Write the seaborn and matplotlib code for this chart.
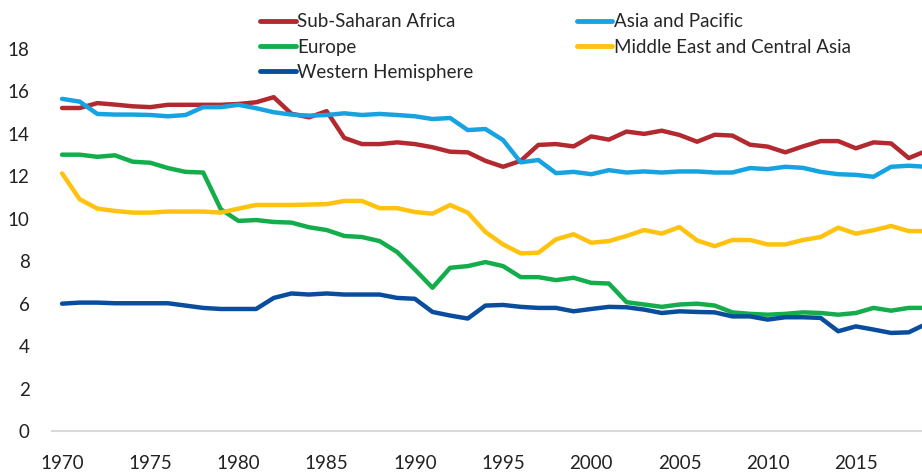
import matplotlib
matplotlib.use("Agg")
import matplotlib.pyplot as plt
import pandas as pd
import seaborn as sns

years = list(range(1970, 2020))

ssa = [15.22, 15.22, 15.45, 15.38, 15.30, 15.26, 15.37, 15.37, 15.37, 15.37,
       15.41, 15.49, 15.73, 14.95, 14.78, 15.07, 13.81, 13.52, 13.52, 13.60,
       13.52, 13.37, 13.16, 13.13, 12.73, 12.45, 12.73, 13.48, 13.52, 13.41,
       13.88, 13.73, 14.11, 14.00, 14.15, 13.95, 13.63, 13.96, 13.92, 13.49,
       13.40, 13.13, 13.41, 13.66, 13.66, 13.32, 13.60, 13.55, 12.86, 13.20]

asia = [15.65, 15.52, 14.94, 14.91, 14.91, 14.89, 14.83, 14.89, 15.26, 15.26,
        15.37, 15.21, 15.02, 14.91, 14.86, 14.89, 14.97, 14.89, 14.94, 14.89,
        14.83, 14.70, 14.75, 14.18, 14.23, 13.71, 12.66, 12.77, 12.15, 12.21,
        12.10, 12.29, 12.18, 12.23, 12.18, 12.23, 12.23, 12.18, 12.18, 12.39,
        12.34, 12.45, 12.40, 12.21, 12.10, 12.07, 11.98, 12.45, 12.50, 12.45]

europe = [13.02, 13.02, 12.92, 12.99, 12.69, 12.64, 12.39, 12.21, 12.18, 10.45,
          9.90, 9.94, 9.85, 9.82, 9.60, 9.47, 9.19, 9.14, 8.95, 8.43,
          7.61, 6.75, 7.69, 7.77, 7.96, 7.77, 7.25, 7.25, 7.11, 7.22,
          6.98, 6.95, 6.07, 5.96, 5.85, 5.96, 6.00, 5.91, 5.59, 5.52,
          5.48, 5.52, 5.59, 5.56, 5.48, 5.56, 5.80, 5.67, 5.80, 5.80]

meca = [12.14, 10.92, 10.48, 10.37, 10.29, 10.29, 10.34, 10.34, 10.34, 10.29,
        10.48, 10.65, 10.65, 10.65, 10.67, 10.69, 10.84, 10.84, 10.50, 10.50,
        10.32, 10.24, 10.65, 10.29, 9.38, 8.79, 8.37, 8.40, 9.03, 9.27,
        8.87, 8.95, 9.19, 9.47, 9.30, 9.61, 8.98, 8.71, 9.00, 9.00,
        8.79, 8.79, 9.00, 9.14, 9.58, 9.30, 9.46, 9.66, 9.42, 9.42]

western = [6.00, 6.05, 6.05, 6.02, 6.02, 6.02, 6.02, 5.91, 5.80, 5.75,
           5.75, 5.75, 6.27, 6.48, 6.43, 6.48, 6.43, 6.43, 6.43, 6.27,
           6.23, 5.61, 5.44, 5.30, 5.91, 5.94, 5.85, 5.80, 5.80, 5.64,
           5.75, 5.85, 5.83, 5.72, 5.56, 5.64, 5.61, 5.59, 5.40, 5.40,
           5.25, 5.36, 5.36, 5.33, 4.70, 4.93, 4.78, 4.62, 4.65, 5.05]

# legend order: column 1 then column 2
regions = ["Sub-Saharan Africa", "Europe", "Western Hemisphere",
           "Asia and Pacific", "Middle East and Central Asia"]
colors = ["#B22A30", "#13AD4B", "#0A4D9E", "#17A3E2", "#FFC20E"]

df = pd.DataFrame({"year": years, "Sub-Saharan Africa": ssa, "Europe": europe,
                   "Western Hemisphere": western, "Asia and Pacific": asia,
                   "Middle East and Central Asia": meca})
long = df.melt(id_vars="year", var_name="region", value_name="value")

sns.set_style("white")
plt.rcParams["font.family"] = ["Lato", "DejaVu Sans"]

fig = plt.figure(figsize=(9.22, 4.73), dpi=100)
ax = fig.add_axes([52 / 922, 42 / 473, 870 / 922, 382 / 473])

sns.lineplot(data=long, x="year", y="value", hue="region", hue_order=regions,
             palette=colors, linewidth=3.2, ax=ax)

ax.set_xlim(1969.43, 2018.75)
ax.set_ylim(0, 18)
ax.set_xticks(range(1970, 2016, 5))
ax.set_yticks(range(0, 19, 2))
ax.set_xlabel("")
ax.set_ylabel("")
ax.tick_params(axis="both", length=0, labelsize=13.5, colors="#222222")
ax.tick_params(axis="y", pad=16)
ax.tick_params(axis="x", pad=17)
for s in ["top", "right", "left"]:
    ax.spines[s].set_visible(False)
ax.spines["bottom"].set_color("#d9d9d9")
ax.spines["bottom"].set_linewidth(1.5)

handles, labels = ax.get_legend_handles_labels()
ax.get_legend().remove()
leg = fig.legend(handles, labels, ncol=2, loc="upper left",
                 bbox_to_anchor=(243 / 922, 1.008), frameon=False,
                 fontsize=13.5, handlelength=1.9, handletextpad=0.1,
                 columnspacing=5.5, labelspacing=0.45)
for line in leg.get_lines():
    line.set_linewidth(3.5)

fig.savefig("out.png", dpi=100)
